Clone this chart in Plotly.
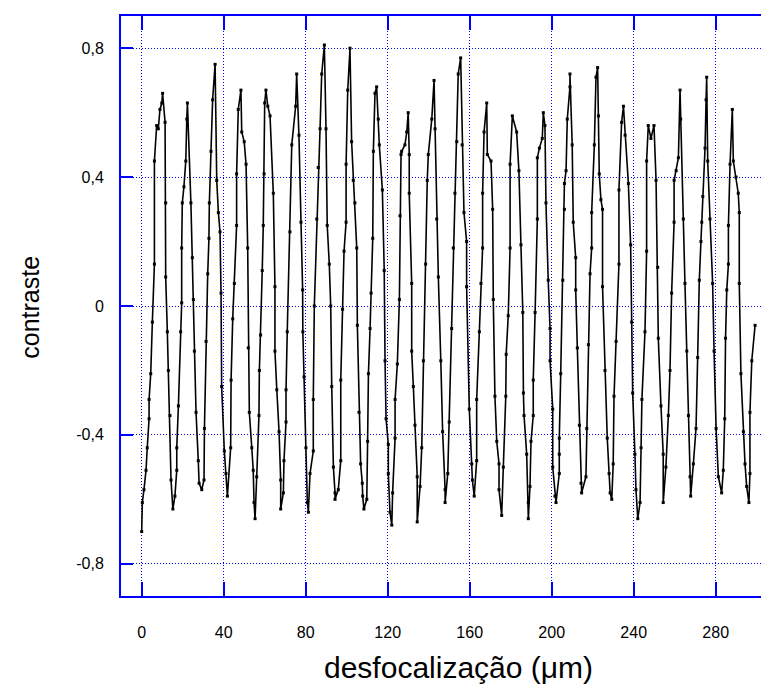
import plotly.graph_objects as go

# desfocalização (µm) and contraste
desfocalizacao = [
    0.0, 0.3, 1.1, 2.1, 2.7, 3.6, 3.6, 4.4, 5.2, 6.2, 6.2, 7.3, 8.1, 8.9, 9.8, 10.2,
    11.4, 11.7, 11.7, 12.5, 13.0, 13.8, 14.3, 15.2,
    16.2, 17.1, 17.1, 17.9, 19.0, 19.5, 19.5, 19.8, 20.6, 21.5, 22.0, 22.3,
    24.0, 24.7, 25.2, 25.7, 26.5, 27.6, 28.0, 29.3,
    30.4, 30.6, 31.4, 32.2, 32.8, 33.0, 33.8, 34.6, 35.8,
    36.6, 37.4, 38.2, 38.7, 39.0, 40.3, 41.1, 41.8,
    43.4, 43.6, 44.4, 45.2, 46.3, 46.3, 47.1, 48.4, 48.8, 50.0,
    50.9, 51.7, 52.0, 52.5, 53.7, 54.4, 54.8, 55.3,
    56.1, 57.2, 57.4, 58.0, 58.8, 59.3, 59.7, 60.0, 60.6, 61.5, 62.6,
    64.2, 65.0, 65.0, 65.9, 67.0, 67.8, 67.8,
    69.1, 69.4, 70.4, 70.4, 71.0, 72.3, 73.2, 75.1, 75.6,
    76.7, 77.7, 78.5, 78.6, 79.2, 80.1, 80.8, 81.3,
    82.1, 83.7, 83.7, 84.2, 85.4, 86.1, 87.0, 87.8, 89.1,
    89.9, 90.5, 91.5, 92.2, 92.7, 93.5, 94.3, 94.3,
    95.9, 97.1, 97.1, 98.0, 98.7, 99.7, 99.7, 100.5, 101.6,
    102.4, 103.2, 104.0, 104.9, 105.2, 106.0, 106.8, 107.6, 107.8, 108.4,
    109.8, 110.2, 110.6, 111.4, 111.9, 112.7, 113.0, 113.8, 114.6, 115.4, 115.9,
    117.4, 118.3, 118.7, 119.2, 120.3, 120.3, 121.1, 122.0,
    122.4, 123.6, 123.6, 124.7, 125.7, 126.0, 126.5, 126.8, 128.4, 129.3, 130.0,
    130.5, 130.5, 131.7, 131.7, 132.5, 133.3, 134.4, 134.4,
    135.8, 136.6, 137.4, 138.5, 139.3, 139.8, 141.5, 142.6,
    143.1, 143.9, 144.7, 145.9, 146.8, 148.0, 148.0,
    149.3, 150.0, 151.2, 152.0, 152.8, 153.7, 154.4, 155.6,
    156.3, 157.2, 158.5, 158.5, 159.8, 161.0, 161.3, 162.2,
    163.4, 163.4, 164.7, 165.5, 166.3, 166.3, 167.0, 168.3,
    168.6, 170.4, 171.2, 171.5, 172.3, 173.2, 174.3, 174.3, 175.6,
    176.4, 177.6, 177.8, 178.8, 179.7, 179.7, 180.8,
    182.9, 184.0, 185.0, 185.9, 186.2, 186.5, 187.8, 188.6, 188.6,
    189.4, 189.9, 191.0, 191.0, 191.9, 193.0, 193.0, 194.0, 195.4, 195.9,
    196.7, 197.2, 198.3, 199.2, 199.2, 200.5, 200.5, 201.6, 202.1,
    203.7, 203.7, 203.7, 204.4, 205.4, 206.2, 206.2, 207.0, 207.6, 208.9, 208.9,
    210.0, 210.5, 211.7, 211.7, 212.5, 213.5, 214.3, 214.6,
    216.7, 217.1, 217.9, 218.7, 219.5, 219.5, 220.8, 221.6, 222.4,
    222.8, 223.2, 224.0, 224.8, 224.8, 226.0, 227.1, 228.0, 228.5, 229.3,
    230.0, 230.4, 231.4, 232.8, 232.8, 234.1, 235.0,
    235.8, 237.4, 238.5, 239.0, 239.5, 240.6, 241.1, 242.0,
    243.1, 243.6, 244.0, 245.5, 246.3, 246.3, 247.1, 248.4, 249.9,
    250.9, 251.7, 252.0, 253.3, 254.4, 254.4,
    255.7, 256.9, 257.7, 258.5, 259.7, 259.7, 260.7, 261.8, 262.6,
    262.9, 264.2, 265.0, 265.9, 266.7, 267.5, 267.8,
    269.1, 270.4, 271.2, 272.0, 272.8, 273.2, 273.7, 274.8, 275.3, 275.6,
    276.1, 277.2, 278.5, 279.2, 280.2, 281.3, 282.9,
    283.7, 284.4, 284.8, 285.4, 286.2, 286.2, 287.0, 288.1,
    288.6, 289.9, 291.0, 291.5, 291.5, 292.3, 293.5, 294.3, 295.1, 296.2,
    296.7, 296.7, 297.6, 299.2,
]

contraste = [
    -0.70, -0.61, -0.57, -0.51, -0.44, -0.35, -0.29, -0.21, -0.05, 0.13, 0.45, 0.56, 0.55, 0.61, 0.63, 0.66,
    0.57, 0.32, 0.09, -0.08, -0.20, -0.34, -0.54, -0.63,
    -0.59, -0.51, -0.44, -0.31, -0.08, 0.01, 0.18, 0.32, 0.37, 0.45, 0.58, 0.63,
    0.32, 0.15, 0.02, -0.14, -0.33, -0.48, -0.55, -0.57,
    -0.54, -0.38, -0.11, 0.10, 0.21, 0.32, 0.48, 0.64, 0.75,
    0.39, 0.29, 0.23, 0.04, -0.25, -0.45, -0.52, -0.59,
    -0.44, -0.23, -0.04, 0.07, 0.25, 0.41, 0.61, 0.67, 0.54, 0.51,
    0.44, 0.18, -0.13, -0.33, -0.44, -0.51, -0.61, -0.66,
    -0.53, -0.34, -0.20, -0.09, 0.11, 0.25, 0.41, 0.63, 0.67, 0.62, 0.59,
    0.35, 0.06, -0.14, -0.26, -0.39, -0.54, -0.63,
    -0.58, -0.48, -0.36, -0.26, -0.08, 0.23, 0.50, 0.62, 0.72,
    0.53, 0.26, 0.05, -0.08, -0.22, -0.44, -0.61, -0.64,
    -0.52, -0.45, -0.29, 0.00, 0.27, 0.43, 0.55, 0.72, 0.81,
    0.55, 0.25, 0.13, 0.00, -0.25, -0.50, -0.58, -0.60,
    -0.57, -0.48, -0.23, -0.01, 0.17, 0.26, 0.44, 0.67, 0.80,
    0.51, 0.39, 0.32, 0.18, -0.06, -0.33, -0.49, -0.55, -0.59, -0.63,
    -0.60, -0.42, -0.21, -0.07, 0.04, 0.21, 0.48, 0.66, 0.68, 0.58, 0.50,
    0.36, 0.11, -0.17, -0.35, -0.43, -0.52, -0.64, -0.68,
    -0.58, -0.41, -0.29, -0.18, 0.02, 0.28, 0.47, 0.48, 0.50, 0.54, 0.60,
    0.47, 0.35, 0.07, -0.14, -0.25, -0.37, -0.53, -0.67,
    -0.56, -0.44, -0.17, 0.13, 0.39, 0.47, 0.58, 0.70,
    0.55, 0.27, 0.09, -0.17, -0.39, -0.57, -0.61,
    -0.52, -0.36, -0.07, 0.18, 0.35, 0.51, 0.72, 0.77,
    0.50, 0.29, 0.20, 0.06, -0.32, -0.49, -0.54, -0.59,
    -0.48, -0.29, -0.08, 0.07, 0.18, 0.35, 0.54, 0.63,
    0.47, 0.45, 0.30, 0.02, -0.28, -0.42, -0.49, -0.57, -0.65,
    -0.50, -0.28, -0.15, -0.03, 0.18, 0.44, 0.59,
    0.54, 0.42, 0.19, -0.02, -0.27, -0.34, -0.46, -0.61, -0.66,
    -0.56, -0.42, -0.34, -0.23, -0.02, 0.27, 0.46, 0.49, 0.52, 0.60,
    0.56, 0.32, 0.08, -0.07, -0.17, -0.32, -0.50, -0.59, -0.61,
    -0.52, -0.46, -0.41, -0.21, 0.08, 0.30, 0.38, 0.42, 0.58, 0.68, 0.72,
    0.50, 0.26, 0.15, 0.05, -0.13, -0.37, -0.55, -0.58,
    -0.53, -0.38, -0.12, 0.10, 0.18, 0.29, 0.50, 0.71, 0.74,
    0.59, 0.41, 0.33, 0.30, 0.06, -0.20, -0.41, -0.52, -0.58, -0.60,
    -0.49, -0.28, -0.11, 0.13, 0.36, 0.57, 0.62,
    0.53, 0.38, 0.19, -0.05, -0.27, -0.46, -0.57, -0.66,
    -0.61, -0.44, -0.29, -0.08, 0.17, 0.45, 0.56, 0.52, 0.56,
    0.39, 0.12, -0.10, -0.31, -0.46, -0.61,
    -0.50, -0.34, -0.20, 0.04, 0.26, 0.39, 0.42, 0.46, 0.67,
    0.58, 0.27, 0.07, -0.14, -0.34, -0.53, -0.59,
    -0.49, -0.38, -0.16, 0.08, 0.20, 0.26, 0.34, 0.49, 0.64, 0.71,
    0.45, 0.27, 0.07, -0.14, -0.38, -0.53, -0.58,
    -0.51, -0.35, -0.10, 0.05, 0.13, 0.25, 0.44, 0.61,
    0.45, 0.40, 0.35, 0.29, 0.07, -0.21, -0.39, -0.49, -0.56, -0.61,
    -0.52, -0.33, -0.17, -0.06,
]

x_ticks = [0, 40, 80, 120, 160, 200, 240, 280]
y_ticks = [-0.8, -0.4, 0, 0.4, 0.8]
y_ticktext = ["-0,8", "-0,4", "0", "0,4", "0,8"]

BLUE = "#0000ff"
FONT = "Liberation Sans, Arial, sans-serif"

fig = go.Figure()
fig.add_trace(go.Scatter(
    x=desfocalizacao, y=contraste, mode="lines+markers",
    line=dict(color="black", width=1.6),
    marker=dict(symbol="square", size=3, color="black"),
    showlegend=False,
))

# the page body has an 8px margin, so the figure is offset by 8px
fig.update_layout(
    width=761, height=680,
    margin=dict(l=113, r=0, t=8, b=92, autoexpand=False),
    paper_bgcolor="white", plot_bgcolor="white",
    font=dict(family=FONT, color="black"),
    xaxis=dict(
        range=[-10.1, 306], tickvals=x_ticks, ticktext=[str(v) for v in x_ticks],
        ticks="inside", ticklen=14, tickwidth=2, tickcolor=BLUE,
        showline=True, linecolor=BLUE, linewidth=2, mirror="ticks",
        showgrid=True, gridcolor=BLUE, gridwidth=1, griddash="1px,2px",
        zeroline=False, tickfont=dict(size=16, color="black"),
        ticklabelstandoff=21, automargin=False,
    ),
    yaxis=dict(
        range=[-0.9, 0.9], tickvals=y_ticks, ticktext=y_ticktext,
        ticks="inside", ticklen=12, tickwidth=2, tickcolor=BLUE,
        showline=True, linecolor=BLUE, linewidth=2, mirror=False,
        showgrid=True, gridcolor=BLUE, gridwidth=1, griddash="1px,2px",
        zeroline=False, tickfont=dict(size=16, color="black"),
        ticklabelstandoff=12, automargin=False,
    ),
    annotations=[
        dict(text="desfocalização (μm)", xref="paper", yref="paper",
             x=0.5216, y=-0.124, xanchor="center", yanchor="middle",
             showarrow=False, font=dict(size=30, family=FONT, color="black")),
        dict(text="contraste", xref="paper", yref="paper",
             x=-0.1404, y=0.497, xanchor="center", yanchor="middle", textangle=-90,
             showarrow=False, font=dict(size=25, family=FONT, color="black")),
    ],
)

fig.write_html("out.html")
